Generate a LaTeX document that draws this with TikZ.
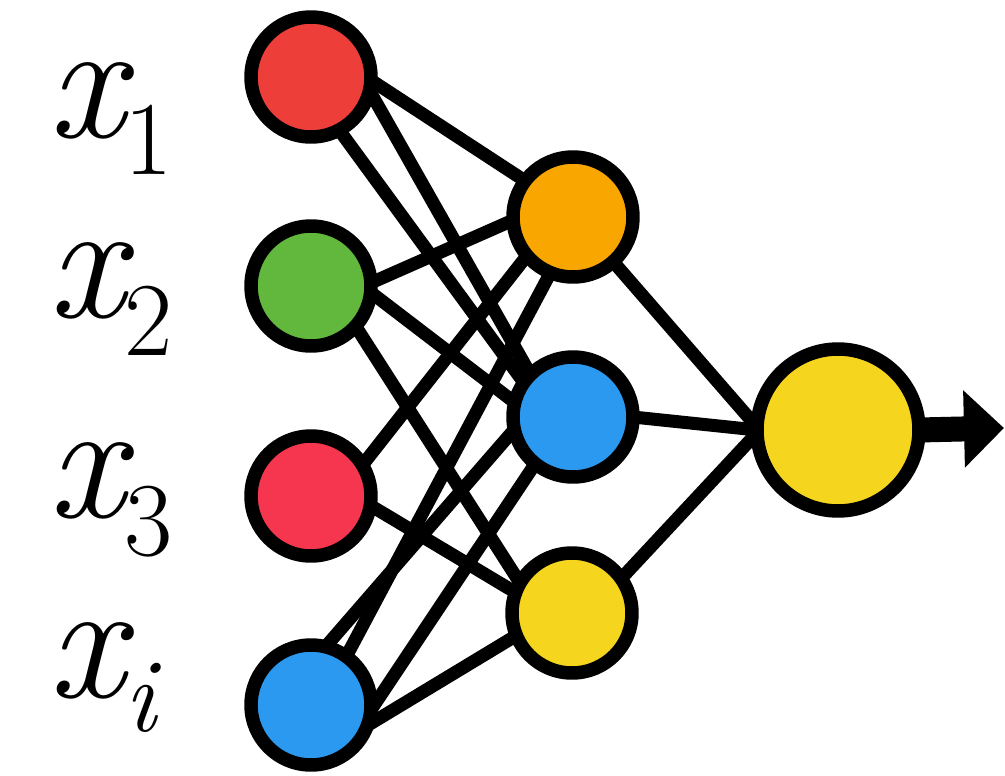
\documentclass[tikz,border=0pt]{standalone}
\usetikzlibrary{arrows.meta,backgrounds}
\definecolor{cRedA}{HTML}{EE3E3A}
\definecolor{cGreen}{HTML}{62B83C}
\definecolor{cRedB}{HTML}{F6364F}
\definecolor{cBlue}{HTML}{2B99EF}
\definecolor{cOrange}{HTML}{F9A700}
\definecolor{cYellow}{HTML}{F5D51E}
\newcommand\subup[1]{\raisebox{-0.76cm}{\fontsize{2.1cm}{2cm}\selectfont\upshape #1}}
\newcommand\subit[1]{\raisebox{-0.68cm}{\fontsize{2.1cm}{2cm}\selectfont\itshape #1}}
\begin{document}
\begin{tikzpicture}[x=0.02cm,y=-0.02cm,
  neuron/.style={circle,draw=black,line width=0.27cm,minimum size=2.4cm,inner sep=0pt,outer sep=0pt},
  bigneuron/.style={neuron,minimum size=3.24cm},
  link/.style={line width=0.26cm,draw=black},
  lab/.style={anchor=base west,inner sep=0pt,font=\fontsize{3.4cm}{3.4cm}\selectfont\itshape}]
\useasboundingbox (0,0) rectangle (1005,775);
% input layer
\node[neuron,fill=cRedA]  (i1) at (311,77)  {};
\node[neuron,fill=cGreen] (i2) at (311,286) {};
\node[neuron,fill=cRedB]  (i3) at (311,496) {};
\node[neuron,fill=cBlue]  (i4) at (311,705) {};
% hidden layer
\node[neuron,fill=cOrange] (h1) at (573,217) {};
\node[neuron,fill=cBlue]   (h2) at (573,417) {};
\node[neuron,fill=cYellow] (h3) at (572,613) {};
% output
\node[bigneuron,fill=cYellow] (o) at (838,430) {};
% labels
\node[lab] (l1) at (48,137) {x\subup{1}};
\node[lab] (l2) at (48,317) {x\subup{2}};
\node[lab] (l3) at (48,517) {x\subup{3}};
\node[lab] (l4) at (48,697) {x\subit{i}};
\coordinate (tip) at (1004,428);
\begin{scope}[on background layer]
\draw[link] (i1.-3)  -- (h1.143);
\draw[link] (i1.-13) -- (h2.135);
\draw[link] (i1.-62) -- (h2.145);
\draw[link] (i2.3)   -- (h1.183);
\draw[link] (i2.-6)  -- (h2.166);
\draw[link] (i2.-42) -- (h3.150);
\draw[link] (i3.31)  -- (h1.-140);
\draw[link] (i3.-9)  -- (h3.160);
\draw[link] (i4.54)  -- (h1.-112);
\draw[link] (i4.76)  -- (h2.-168);
\draw[link] (i4.-5)  -- (h2.-129);
\draw[link] (i4.-20) -- (h3.-158);
\draw[link] (h1.-48) -- (o.178);
\draw[link] (h2.0)   -- (o.180);
\draw[link] (h3.35)  -- (o.182);
\end{scope}
\draw[line width=0.5cm,-{Triangle[length=0.8cm,width=1.5cm]}] (o.east) -- (tip);
\end{tikzpicture}
\end{document}
